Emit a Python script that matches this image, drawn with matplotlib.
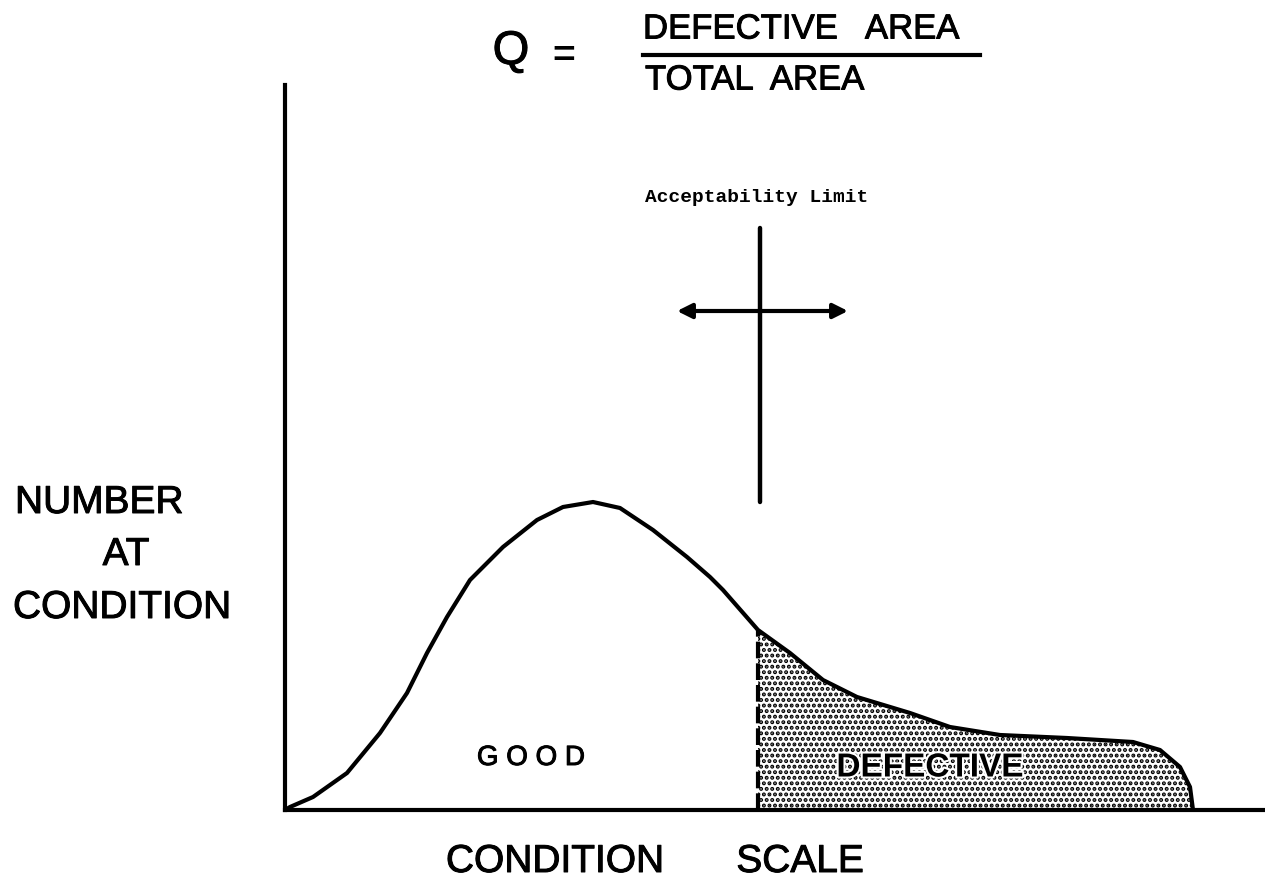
import matplotlib.pyplot as plt
import matplotlib.patheffects as pe
import numpy as np
from matplotlib.lines import Line2D

# condition scale (x) and number at condition (y)
cond_x = [0, 0.5, 2.8, 6.2, 9.5, 12.2, 14.2, 16.2, 18.5, 21.8, 25.2, 27.8, 30.8, 33.5,
          36.8, 40.2, 42.5, 43.8, 47.3, 50.5, 53.8, 57.2, 62.5, 66.5, 71.5, 78.2,
          84.8, 87.5, 89.5, 90.5, 90.8]
count = [0, 0.3, 1.3, 3.7, 7.7, 11.7, 15.7, 19.3, 23.0, 26.3, 29.0, 30.3, 30.8, 30.2,
         28.0, 25.3, 23.3, 22.0, 18.0, 15.7, 13.0, 11.3, 9.7, 8.3, 7.5, 7.2,
         6.8, 6.0, 4.3, 2.3, 0]
limit = 47.3
limit_marker_y = [30.8, 58.2]
arrow_x = [39.2, 56.3]
arrow_y = 49.9

W, H = 1265, 894
SANS = 'Liberation Sans'
thick = [pe.withStroke(linewidth=0.7, foreground='black')]


def fx(px):
    return px / W


def fy(py):
    return 1 - py / H


fig = plt.figure(figsize=(12.65, 8.94), dpi=100)
ax = fig.add_axes([fx(285), fy(810), fx(1265 - 285), (810 - 85) / H])
ax.set_xlim(0, 98)
ax.set_ylim(0, 72.5)
for s in ['top', 'right']:
    ax.spines[s].set_visible(False)
for s in ['left', 'bottom']:
    ax.spines[s].set_linewidth(3)
ax.set_xticks([])
ax.set_yticks([])

x = np.array(cond_x)
y = np.array(count)

# defective tail
mask = x >= limit
plt.rcParams['hatch.linewidth'] = 2.0
ax.fill_between(x[mask], 0, y[mask], facecolor='white', edgecolor='black',
                hatch='...', linewidth=0)
ax.plot(x, y, color='black', lw=3, solid_capstyle='round', solid_joinstyle='round')
ax.plot([limit, limit], [0, y[mask][0]], color='black', lw=3, ls=(0, (4, 1.2)))

# acceptability limit marker
ax.plot([47.5, 47.5], limit_marker_y, color='black', lw=3.2, solid_capstyle='round')
ax.annotate('', xy=(arrow_x[0], arrow_y), xytext=(arrow_x[1], arrow_y),
            arrowprops=dict(arrowstyle='<|-|>', lw=3, color='black',
                            mutation_scale=22, shrinkA=0, shrinkB=0))
ax.text(47.2, 61.3, 'Acceptability Limit', ha='center', va='center',
        family='Liberation Mono', fontweight='bold', fontsize=14)

ax.text(24.6, 5.2, 'G O O D', ha='center', va='center', family=SANS, fontsize=20,
        path_effects=thick)
ax.text(64.5, 4.2, 'DEFECTIVE', ha='center', va='center', family=SANS,
        fontweight='bold', fontsize=24,
        path_effects=[pe.withStroke(linewidth=3, foreground='white')])

# formula
fig.text(fx(511), fy(52), 'Q', ha='center', va='center', family=SANS, fontsize=34,
         path_effects=thick)
fig.text(fx(564), fy(57), '=', ha='center', va='center', family=SANS,
         fontsize=28, fontweight='bold')
fig.text(fx(643), fy(29), 'DEFECTIVE   AREA', ha='left', va='center', family=SANS,
         fontsize=25, path_effects=thick)
fig.add_artist(Line2D([fx(643), fx(980)], [fy(55), fy(55)], color='black', lw=3))
fig.text(fx(645), fy(80), 'TOTAL  AREA', ha='left', va='center', family=SANS,
         fontsize=25, path_effects=thick)

# axis labels
fig.text(fx(15), fy(503), 'NUMBER', ha='left', va='center', family=SANS, fontsize=28,
         path_effects=thick)
fig.text(fx(126), fy(555), 'AT', ha='center', va='center', family=SANS, fontsize=28,
         path_effects=thick)
fig.text(fx(13), fy(608), 'CONDITION', ha='left', va='center', family=SANS, fontsize=28,
         path_effects=thick)
fig.text(fx(555), fy(862), 'CONDITION', ha='center', va='center', family=SANS, fontsize=28,
         path_effects=thick)
fig.text(fx(800), fy(862), 'SCALE', ha='center', va='center', family=SANS, fontsize=28,
         path_effects=thick)

fig.savefig('out.png', dpi=100, facecolor='white')
